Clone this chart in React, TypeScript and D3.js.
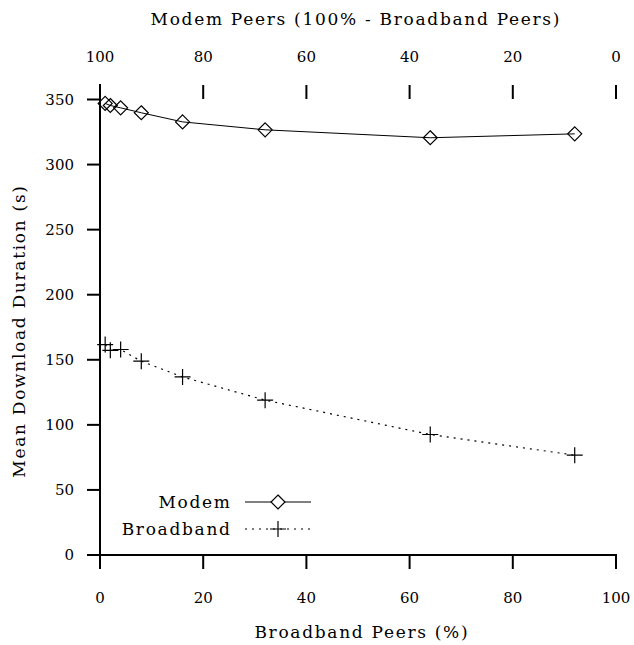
import React, { useEffect, useRef } from 'react';
import * as d3 from 'd3';

// Broadband share (%) for each run
const broadbandPct = [1, 2, 4, 8, 16, 32, 64, 92];
const modemDuration = [347, 345.4, 343.6, 339.8, 332.8, 326.7, 320.6, 323.6];
const broadbandDuration = [161.7, 157.3, 157.9, 148.9, 136.8, 119, 92.6, 76.7];
const yTicks = [0, 50, 100, 150, 200, 250, 300, 350];
const xTicks = [0, 20, 40, 60, 80, 100];
const topTicks = [100, 80, 60, 40, 20, 0];

const FONT = '"DejaVu Serif", serif';
const LS = 1.7; // letter spacing for words

const App = () => {
  const svgRef = useRef<SVGSVGElement | null>(null);

  useEffect(() => {
    const svg = d3.select(svgRef.current);
    svg.selectAll('*').remove();

    const x = d3.scaleLinear().domain([0, 100]).range([100, 616]);
    const y = d3.scaleLinear().domain([0, 350]).range([555, 99.5]);
    const xTop = d3.scaleLinear().domain([100, 0]).range([100, 616]);

    const g = svg.append('g').attr('font-family', FONT).attr('fill', '#000');

    // axes lines
    g.append('line')
      .attr('x1', x(0)).attr('x2', x(0))
      .attr('y1', 84).attr('y2', y(0) + 1)
      .attr('stroke', '#000').attr('stroke-width', 2);
    g.append('line')
      .attr('x1', x(0) - 1).attr('x2', x(100) + 1)
      .attr('y1', y(0)).attr('y2', y(0))
      .attr('stroke', '#000').attr('stroke-width', 2);

    // y ticks
    g.selectAll('.ytick')
      .data(yTicks)
      .enter().append('line')
      .attr('x1', x(0) - 13).attr('x2', x(0))
      .attr('y1', d => y(d)).attr('y2', d => y(d))
      .attr('stroke', '#000').attr('stroke-width', 2);
    g.selectAll('.ylab')
      .data(yTicks)
      .enter().append('text')
      .attr('x', 74).attr('y', d => y(d))
      .attr('dy', '0.36em')
      .attr('text-anchor', 'end')
      .attr('font-size', 15)
      .text(d => d);

    // bottom ticks
    g.selectAll('.xtick')
      .data(xTicks)
      .enter().append('line')
      .attr('x1', d => x(d)).attr('x2', d => x(d))
      .attr('y1', y(0)).attr('y2', y(0) + 14)
      .attr('stroke', '#000').attr('stroke-width', 2);
    g.selectAll('.xlab')
      .data(xTicks)
      .enter().append('text')
      .attr('x', d => x(d)).attr('y', 603)
      .attr('text-anchor', 'middle')
      .attr('font-size', 15)
      .text(d => d);

    // top ticks (no axis line)
    g.selectAll('.ttick')
      .data(topTicks.filter(d => d !== 100))
      .enter().append('line')
      .attr('x1', d => xTop(d)).attr('x2', d => xTop(d))
      .attr('y1', 85).attr('y2', 99)
      .attr('stroke', '#000').attr('stroke-width', 2);
    g.selectAll('.tlab')
      .data(topTicks)
      .enter().append('text')
      .attr('x', d => xTop(d)).attr('y', 62)
      .attr('text-anchor', 'middle')
      .attr('font-size', 15)
      .text(d => d);

    // titles
    g.append('text')
      .attr('x', 355 + LS / 2).attr('y', 25)
      .attr('text-anchor', 'middle')
      .attr('font-size', 17)
      .attr('letter-spacing', LS)
      .text('Modem Peers (100% - Broadband Peers)');
    g.append('text')
      .attr('x', 361 + LS / 2).attr('y', 638)
      .attr('text-anchor', 'middle')
      .attr('font-size', 17)
      .attr('letter-spacing', LS)
      .text('Broadband Peers (%)');
    g.append('text')
      .attr('transform', 'translate(25,331) rotate(-90)')
      .attr('text-anchor', 'middle')
      .attr('font-size', 17)
      .attr('letter-spacing', LS)
      .text('Mean Download Duration (s)');

    const modem = broadbandPct.map((p, i) => ({ p, v: modemDuration[i] }));
    const broad = broadbandPct.map((p, i) => ({ p, v: broadbandDuration[i] }));

    const line = d3.line<{ p: number; v: number }>()
      .x(d => x(d.p))
      .y(d => y(d.v));

    g.append('path')
      .datum(modem)
      .attr('fill', 'none')
      .attr('stroke', '#000')
      .attr('stroke-width', 1)
      .attr('d', line);

    g.append('path')
      .datum(broad)
      .attr('fill', 'none')
      .attr('stroke', '#000')
      .attr('stroke-width', 1.2)
      .attr('stroke-dasharray', '2,5')
      .attr('d', line);

    const diamond = (cx: number, cy: number) =>
      `M${cx},${cy - 7}L${cx + 7},${cy}L${cx},${cy + 7}L${cx - 7},${cy}Z`;
    const plus = (cx: number, cy: number) =>
      `M${cx - 8},${cy}H${cx + 8}M${cx},${cy - 8}V${cy + 8}`;

    g.selectAll('.dm')
      .data(modem)
      .enter().append('path')
      .attr('d', d => diamond(x(d.p), y(d.v)))
      .attr('fill', 'none')
      .attr('stroke', '#000')
      .attr('stroke-width', 1.2);

    g.selectAll('.pb')
      .data(broad)
      .enter().append('path')
      .attr('d', d => plus(x(d.p), y(d.v)))
      .attr('fill', 'none')
      .attr('stroke', '#000')
      .attr('stroke-width', 1.2);

    // legend
    const legend = g.append('g');
    const rows = [
      { name: 'Modem', y: 502, dash: null as string | null, mark: diamond },
      { name: 'Broadband', y: 529, dash: '2,5', mark: plus },
    ];
    rows.forEach(r => {
      legend.append('text')
        .attr('x', 230 + LS).attr('y', r.y)
        .attr('dy', '0.35em')
        .attr('text-anchor', 'end')
        .attr('font-size', 17)
        .attr('letter-spacing', LS)
        .text(r.name);
      legend.append('line')
        .attr('x1', 245).attr('x2', 311)
        .attr('y1', r.y).attr('y2', r.y)
        .attr('stroke', '#000')
        .attr('stroke-width', r.dash ? 1.2 : 1)
        .attr('stroke-dasharray', r.dash);
      legend.append('path')
        .attr('d', r.mark(278, r.y))
        .attr('fill', r.dash ? 'none' : '#fff')
        .attr('stroke', '#000')
        .attr('stroke-width', 1.2);
    });
  }, []);

  return (
    <svg
      ref={svgRef}
      width={634}
      height={645}
      style={{ position: 'absolute', left: 0, top: 0, background: '#fff' }}
    ></svg>
  );
};

export default App;
